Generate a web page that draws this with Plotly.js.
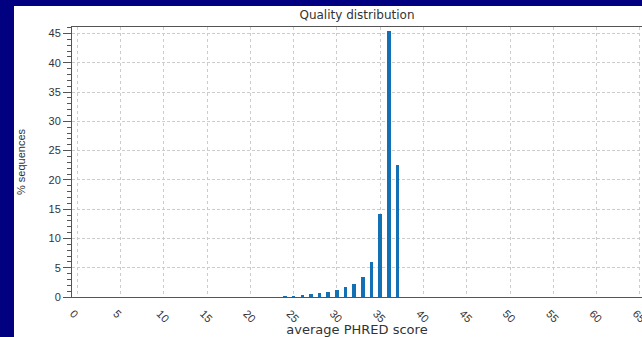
<!DOCTYPE html>
<html>
<head>
<meta charset="utf-8">
<script src="https://cdn.plot.ly/plotly-3.0.1.min.js"></script>
<style>
  html, body { margin: 0; padding: 0; width: 642px; height: 337px; background: #000080; overflow: hidden; }
  #chart { position: absolute; left: 14px; top: 6px; width: 628px; height: 331px; background: #ffffff; }
</style>
</head>
<body>
<div id="chart"></div>
<script>
// Data
const phredScores = [24, 25, 26, 27, 28, 29, 30, 31, 32, 33, 34, 35, 36, 37];
const percentSequences = [0.1, 0.2, 0.3, 0.45, 0.65, 0.9, 1.2, 1.65, 2.25, 3.4, 5.95, 14.1, 45.4, 22.6];
const xTickValues = [0, 5, 10, 15, 20, 25, 30, 35, 40, 45, 50, 55, 60, 65];
const yTickValues = [0, 5, 10, 15, 20, 25, 30, 35, 40, 45];

const trace = {
  type: 'bar',
  x: phredScores,
  y: percentSequences,
  width: 0.4,
  marker: { color: '#1470b4', line: { width: 0 } },
  hoverinfo: 'x+y'
};

const layout = {
  width: 628,
  height: 331,
  margin: { l: 58, r: 0, t: 21, b: 40 },
  paper_bgcolor: '#ffffff',
  plot_bgcolor: '#ffffff',
  showlegend: false,
  bargap: 0,
  font: { family: 'Liberation Sans, Arial, sans-serif', size: 11, color: '#333333' },
  title: {
    text: 'Quality distribution',
    font: { family: 'DejaVu Sans, sans-serif', size: 12, color: '#333333' },
    xref: 'paper', x: 0.5, xanchor: 'center',
    yref: 'container', y: 0.973, yanchor: 'middle'
  },
  xaxis: {
    range: [-0.6, 65.25],
    tickmode: 'array',
    tickvals: xTickValues,
    ticktext: xTickValues.map(String),
    tickangle: 45,
    ticks: '',
    ticklabelshift: -4,
    ticklabelstandoff: 5,
    ticklabeloverflow: 'allow',
    showline: true, linecolor: '#555555', linewidth: 1, mirror: true,
    showgrid: true, gridcolor: '#cccccc', griddash: 'dot', gridwidth: 1,
    zeroline: false,
    tickfont: { family: 'Liberation Sans, Arial, sans-serif', size: 11, color: '#333333' },
    title: { text: 'average PHRED score', font: { family: 'DejaVu Sans, sans-serif', size: 13, color: '#333333' }, standoff: 2 },
    automargin: false
  },
  yaxis: {
    range: [0, 46.1],
    tickmode: 'array',
    tickvals: yTickValues,
    ticktext: yTickValues.map(String),
    ticks: 'outside', ticklen: 8, tickcolor: '#555555', tickwidth: 1,
    minor: { dtick: 1, ticks: 'outside', ticklen: 4, tickcolor: '#555555', showgrid: false },
    showline: true, linecolor: '#555555', linewidth: 1,
    showgrid: true, gridcolor: '#cccccc', griddash: '3px,2px', gridwidth: 1,
    zeroline: false,
    tickfont: { family: 'Liberation Sans, Arial, sans-serif', size: 11, color: '#333333' },
    title: { text: '% sequences', font: { family: 'Liberation Sans, Arial, sans-serif', size: 11, color: '#333333' }, standoff: 20 },
    automargin: false
  }
};

Plotly.newPlot('chart', [trace], layout, { displayModeBar: false, staticPlot: true });
</script>
</body>
</html>
